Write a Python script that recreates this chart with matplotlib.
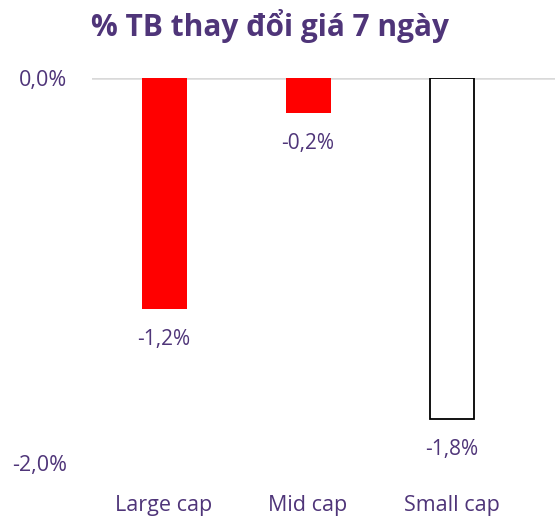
import matplotlib.pyplot as plt

# Données du graphique
categories = ['Large cap', 'Mid cap', 'Small cap']
values = [-1.2, -0.18, -1.77]
value_labels = ['-1,2%', '-0,2%', '-1,8%']
y_ticks = [0.0, -2.0]
y_tick_labels = ['0,0%', '-2,0%']

purple = '#4f3579'
plt.rcParams['font.family'] = ['Open Sans', 'DejaVu Sans']

fig = plt.figure(figsize=(5.55, 5.17), dpi=100)
ax = fig.add_axes([92 / 555, 1 - 463 / 517, 1 - 92 / 555, (463 - 78) / 517])

face = ['#ff0000', '#ff0000', 'white']
edge = ['#ff0000', '#ff0000', 'black']
lw = [0, 0, 1.3]
x = range(len(categories))
ax.bar([i + 0.005 for i in x], values, width=0.31, color=face, edgecolor=edge, linewidth=lw, zorder=2)

# Étiquettes des valeurs sous les barres
for i, v in enumerate(values):
    ax.annotate(value_labels[i], (i, v), xytext=(0, -22), textcoords='offset points',
                ha='center', va='center', fontsize=15, color=purple)

ax.axhline(0, color='#d9d9d9', linewidth=1.8, zorder=1)
ax.set_xlim(-0.5, 2.72)
ax.set_ylim(-2.0, 0)

ax.set_yticks(y_ticks)
ax.set_yticklabels(y_tick_labels, fontsize=15.5, color=purple)
ax.set_xticks(list(x))
ax.set_xticklabels(categories, fontsize=15.5, color=purple)
ax.tick_params(axis='both', length=0)
ax.tick_params(axis='y', pad=18)
ax.tick_params(axis='x', pad=23)
for s in ax.spines.values():
    s.set_visible(False)

fig.text(270 / 555, 1 - 26 / 517, '% TB thay đổi giá 7 ngày', ha='center', va='center',
         fontsize=21.5, fontweight='bold', color=purple)

fig.savefig('out.png', dpi=100)
